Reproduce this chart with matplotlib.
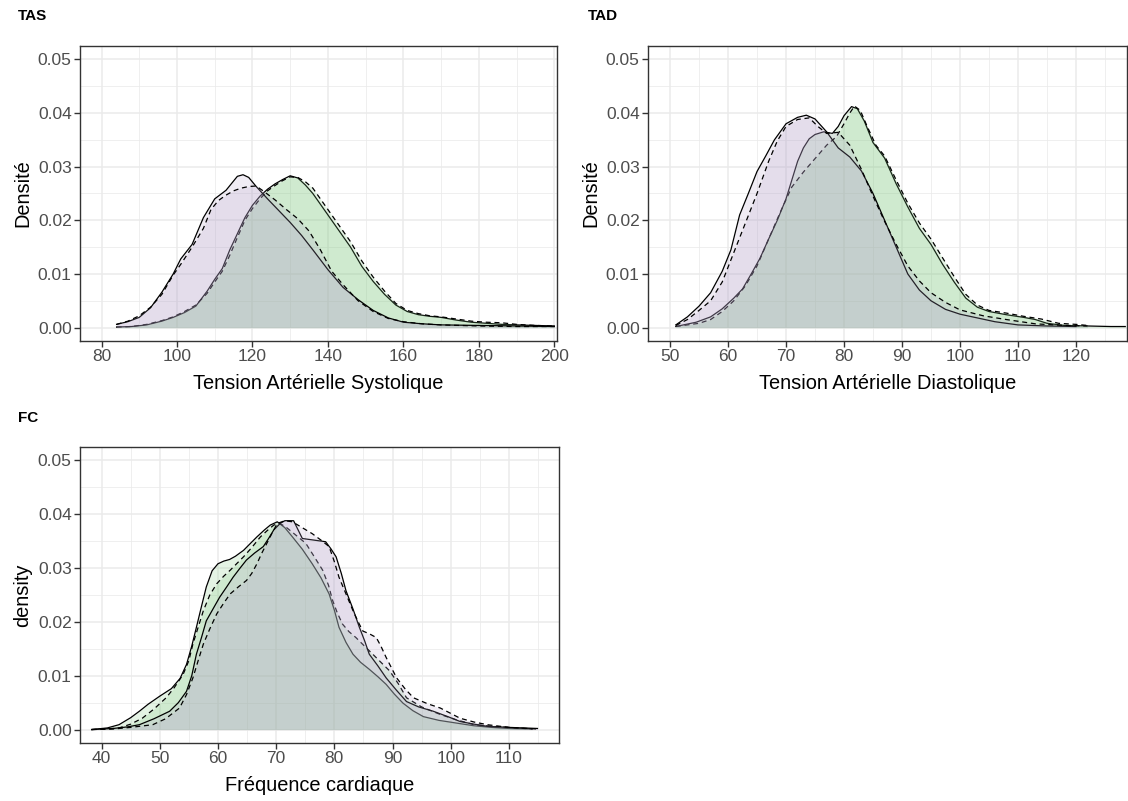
import numpy as np
import matplotlib.pyplot as plt
from matplotlib.ticker import MultipleLocator

plt.rcParams['font.family'] = ['Liberation Sans', 'DejaVu Sans']

# ------------------------------------------------------------
# Données (densités estimées)
# ------------------------------------------------------------
# TAS
tas_ps_x = [84, 87, 90, 93, 96, 99, 101, 104, 107, 110, 113, 116, 117.5, 119, 121, 124, 127, 130, 133, 136,
            140, 144, 148, 152, 156, 160, 165, 170, 180, 190, 200]
tas_ps_y = [0.0006, 0.0011, 0.0019, 0.0037, 0.0066, 0.0100, 0.0128, 0.0155, 0.0205, 0.0240, 0.0256, 0.0282,
            0.0285, 0.0280, 0.0263, 0.0240, 0.0218, 0.0196, 0.0172, 0.0145, 0.0108, 0.0075, 0.0052, 0.0032,
            0.0018, 0.0010, 0.0007, 0.0005, 0.0004, 0.0003, 0.0002]
tas_pd_x = [84, 87, 90, 93, 96, 99, 101, 104, 107, 109, 111, 113, 115, 117, 119, 121, 123, 126, 129, 132, 135,
            138, 141, 144, 148, 152, 156, 160, 165, 170, 180, 190, 200]
tas_pd_y = [0.0006, 0.0012, 0.0022, 0.0038, 0.0062, 0.0098, 0.0118, 0.0150, 0.0185, 0.0220, 0.0237, 0.0247,
            0.0255, 0.0260, 0.0263, 0.0264, 0.0254, 0.0238, 0.0220, 0.0203, 0.0180, 0.0145, 0.0105, 0.0080,
            0.0050, 0.0030, 0.0017, 0.0011, 0.0007, 0.0005, 0.0003, 0.0002, 0.0002]
tas_gs_x = [84, 88, 92, 96, 99, 102, 105, 108, 110, 112, 114, 116, 118, 120, 122, 124, 126, 128, 130, 132, 134,
            136, 138, 140, 143, 146, 149, 152, 155, 158, 161, 164, 167, 170, 174, 178, 182, 186, 190, 195, 200]
tas_gs_y = [0.0001, 0.0002, 0.0005, 0.0012, 0.0019, 0.0028, 0.0040, 0.0068, 0.0090, 0.0110, 0.0145, 0.0175,
            0.0205, 0.0228, 0.0245, 0.0258, 0.0268, 0.0276, 0.0283, 0.0279, 0.0266, 0.0250, 0.0230, 0.0210,
            0.0180, 0.0150, 0.0114, 0.0086, 0.0062, 0.0042, 0.0030, 0.0024, 0.0021, 0.0019, 0.0014, 0.0010,
            0.0008, 0.0006, 0.0005, 0.0004, 0.0003]
tas_gd_x = tas_gs_x
tas_gd_y = [0.0001, 0.0002, 0.0006, 0.0013, 0.0020, 0.0030, 0.0042, 0.0064, 0.0085, 0.0105, 0.0135, 0.0168,
            0.0200, 0.0222, 0.0240, 0.0255, 0.0265, 0.0274, 0.0281, 0.0280, 0.0272, 0.0260, 0.0240, 0.0220,
            0.0190, 0.0160, 0.0124, 0.0094, 0.0068, 0.0045, 0.0032, 0.0026, 0.0022, 0.0020, 0.0016, 0.0012,
            0.0010, 0.0009, 0.0006, 0.0004, 0.0003]

# TAD
tad_ps_x = [51, 53, 55, 57, 59, 60.5, 62, 63.5, 65, 66.5, 68, 70, 72, 73.5, 75, 77, 79, 81, 83, 85, 87, 89, 91,
            93, 95, 97.5, 100, 103, 106, 110, 115, 120]
tad_ps_y = [0.0005, 0.0020, 0.0040, 0.0065, 0.0105, 0.0145, 0.0210, 0.0250, 0.0291, 0.0320, 0.0350, 0.0380,
            0.0392, 0.0396, 0.0389, 0.0365, 0.0335, 0.0318, 0.0292, 0.0250, 0.0200, 0.0150, 0.0100, 0.0070,
            0.0050, 0.0034, 0.0025, 0.0018, 0.0011, 0.0005, 0.0003, 0.0002]
tad_pd_x = [51, 53, 55, 57, 59, 61, 63, 65, 67, 68.5, 70, 72, 74, 75.5, 77, 79, 81, 83, 85, 87, 89, 91, 93, 95,
            97.5, 100, 104, 108, 113, 118, 122]
tad_pd_y = [0.0004, 0.0015, 0.0032, 0.0050, 0.0085, 0.0140, 0.0195, 0.0250, 0.0310, 0.0348, 0.0375, 0.0388,
            0.0391, 0.0375, 0.0362, 0.0364, 0.0340, 0.0295, 0.0245, 0.0198, 0.0155, 0.0115, 0.0087, 0.0065,
            0.0047, 0.0033, 0.0022, 0.0015, 0.0007, 0.0004, 0.0003]
tad_gs_x = [51, 54.5, 57, 59, 61, 62.5, 64, 65.5, 67, 68.5, 70, 71, 72, 73, 74, 75, 76.5, 78, 79, 80, 81.3, 82.3,
            83.5, 85, 87, 89, 91, 93, 95, 97, 99, 101, 103, 105, 108, 111, 113, 115, 118, 122, 126, 128.5]
tad_gs_y = [0.0002, 0.0010, 0.0020, 0.0035, 0.0055, 0.0072, 0.0100, 0.0129, 0.0165, 0.0200, 0.0240, 0.0275,
            0.0310, 0.0335, 0.0352, 0.0360, 0.0365, 0.0362, 0.0375, 0.0395, 0.0412, 0.0408, 0.0385, 0.0345,
            0.0316, 0.0268, 0.0225, 0.0185, 0.0155, 0.0118, 0.0085, 0.0055, 0.0038, 0.0030, 0.0024, 0.0019,
            0.0015, 0.0008, 0.0004, 0.0003, 0.0002, 0.0002]
tad_gd_x = [51, 55, 57, 59, 61, 63, 65, 67, 69, 71, 73, 75, 77, 78.7, 80, 81, 81.8, 82.8, 84, 85.5, 87, 89, 91,
            93, 95, 97, 99, 101, 103, 105, 108, 111, 114, 117, 120, 122]
tad_gd_y = [0.0002, 0.0008, 0.0015, 0.0030, 0.0050, 0.0078, 0.0115, 0.0165, 0.0215, 0.0262, 0.0290, 0.0315,
            0.0340, 0.0356, 0.0380, 0.0400, 0.0413, 0.0405, 0.0375, 0.0340, 0.0320, 0.0275, 0.0232, 0.0195,
            0.0165, 0.0130, 0.0095, 0.0062, 0.0042, 0.0032, 0.0027, 0.0021, 0.0016, 0.0008, 0.0006, 0.0004]

# FC
fc_gs_x = [38.3, 41, 43, 45, 46.5, 48, 50, 52, 53.5, 54.6, 55.5, 56.3, 57.2, 58, 59, 60, 61, 62, 63, 64.4, 65.5,
           66.7, 68, 69, 70.2, 71.5, 72.8, 74.5, 76.2, 77.7, 79.1, 80, 80.8, 82, 83.2, 84.5, 86, 87.5, 88.9,
           90.3, 91.8, 93.5, 95.3, 98, 101, 104, 107, 110, 114]
fc_gs_y = [0.0000, 0.0003, 0.0009, 0.0022, 0.0034, 0.0047, 0.0062, 0.0076, 0.0095, 0.0121, 0.0155, 0.0190,
           0.0230, 0.0265, 0.0295, 0.0308, 0.0313, 0.0316, 0.0322, 0.0333, 0.0345, 0.0358, 0.0371, 0.0380,
           0.0386, 0.0375, 0.0358, 0.0335, 0.0308, 0.0282, 0.0252, 0.0222, 0.0190, 0.0162, 0.0140, 0.0125,
           0.0112, 0.0098, 0.0084, 0.0066, 0.0049, 0.0035, 0.0024, 0.0017, 0.0012, 0.0007, 0.0004, 0.0002,
           0.0001]
fc_gd_x = [38.3, 41, 43, 45, 47, 49, 51.1, 52.5, 54, 55, 55.7, 56.6, 57.5, 58.6, 59.8, 61, 62.1, 63.2, 64.4,
           65.8, 67.3, 68.5, 69.6, 70.6, 71.6, 73.3, 75.1, 76.5, 78, 79, 79.7, 80.5, 81.4, 82.5, 83.7, 85, 86.6,
           88, 89.5, 91, 92.4, 95, 98.2, 101, 104, 107, 110, 114]
fc_gd_y = [0.0000, 0.0001, 0.0003, 0.0010, 0.0021, 0.0038, 0.0059, 0.0078, 0.0102, 0.0128, 0.0159, 0.0190,
           0.0221, 0.0250, 0.0271, 0.0285, 0.0296, 0.0308, 0.0321, 0.0338, 0.0358, 0.0370, 0.0380, 0.0383,
           0.0377, 0.0362, 0.0346, 0.0322, 0.0296, 0.0268, 0.0240, 0.0217, 0.0196, 0.0182, 0.0171, 0.0157,
           0.0140, 0.0125, 0.0109, 0.0085, 0.0059, 0.0042, 0.0028, 0.0018, 0.0009, 0.0006, 0.0004, 0.0001]
fc_ps_x = [38.3, 42, 44.5, 46.5, 49, 51.7, 53.2, 54.6, 55.5, 56.3, 57.2, 58, 59.2, 60.3, 61.5, 62.6, 63.8, 64.9,
           66.3, 67.8, 68.7, 69.6, 70.7, 71.5, 73, 74.5, 76.5, 78.5, 79.4, 80.3, 81.2, 82, 83.2, 84.3, 85.2, 86,
           87.5, 88.9, 90.6, 92.4, 94.5, 97, 99.5, 101.6, 104, 106.3, 110, 114.9]
fc_ps_y = [0.0000, 0.0002, 0.0005, 0.0009, 0.0020, 0.0034, 0.0050, 0.0071, 0.0100, 0.0140, 0.0172, 0.0202,
           0.0225, 0.0246, 0.0265, 0.0283, 0.0300, 0.0315, 0.0328, 0.0340, 0.0355, 0.0371, 0.0383, 0.0388,
           0.0388, 0.0355, 0.0352, 0.0349, 0.0336, 0.0321, 0.0290, 0.0258, 0.0224, 0.0190, 0.0165, 0.0140,
           0.0118, 0.0096, 0.0074, 0.0052, 0.0042, 0.0034, 0.0024, 0.0015, 0.0010, 0.0006, 0.0004, 0.0002]
fc_pd_x = [38.3, 42, 45, 48.8, 51, 53.4, 54.6, 55.7, 56.6, 57.5, 58.6, 59.8, 61, 62.1, 63.5, 64.9, 65.8, 66.7,
           67.5, 68.4, 69.3, 70.2, 71.5, 72.8, 74.5, 76.2, 77.7, 79.1, 80, 80.8, 82, 83.2, 84.1, 84.9, 86, 87.2,
           88, 88.9, 89.8, 90.7, 92.2, 93.6, 96, 98.2, 100, 101.6, 104, 106.3, 110, 114.9]
fc_pd_y = [0.0000, 0.0001, 0.0004, 0.0009, 0.0020, 0.0040, 0.0065, 0.0096, 0.0128, 0.0159, 0.0187, 0.0215,
           0.0235, 0.0252, 0.0265, 0.0277, 0.0290, 0.0308, 0.0327, 0.0346, 0.0365, 0.0383, 0.0388, 0.0386,
           0.0375, 0.0364, 0.0352, 0.0340, 0.0312, 0.0283, 0.0252, 0.0221, 0.0200, 0.0183, 0.0178, 0.0171,
           0.0155, 0.0134, 0.0115, 0.0096, 0.0075, 0.0059, 0.0048, 0.0040, 0.0030, 0.0021, 0.0014, 0.0009,
           0.0004, 0.0001]

PURPLE = '#B4A3CA'
GREEN = '#7CC77C'
ALPHA = 0.2


def draw_density(ax, x, y, fill, dashed):
    ax.fill_between(x, 0, y, color=fill, alpha=ALPHA, linewidth=0, zorder=3)
    ls = (0, (4, 3)) if dashed else '-'
    ax.plot(x, y, color='black', linewidth=0.9, linestyle=ls, zorder=3)


def style_axes(ax, xlim, xmajor, xlabel, ylabel):
    ax.set_xlim(*xlim)
    ax.set_ylim(-0.0025, 0.0525)
    ax.xaxis.set_major_locator(MultipleLocator(xmajor))
    ax.xaxis.set_minor_locator(MultipleLocator(xmajor / 2))
    ax.yaxis.set_major_locator(MultipleLocator(0.01))
    ax.yaxis.set_minor_locator(MultipleLocator(0.005))
    ax.yaxis.set_major_formatter(plt.FuncFormatter(lambda v, p: f"{v:.2f}"))
    ax.grid(which='major', color='#EBEBEB', linewidth=1.1, zorder=0)
    ax.grid(which='minor', color='#EBEBEB', linewidth=0.55, zorder=0)
    ax.set_axisbelow(True)
    for s in ax.spines.values():
        s.set_color('#333333')
        s.set_linewidth(1.0)
    ax.tick_params(which='major', length=4, width=1.0, color='#333333',
                   labelcolor='#4D4D4D', labelsize=12.5, pad=2)
    ax.tick_params(which='minor', length=0)
    ax.set_xlabel(xlabel, fontsize=14.4, color='black', labelpad=7)
    ax.set_ylabel(ylabel, fontsize=14.4, color='black', labelpad=4)


fig = plt.figure(figsize=(11.28, 8.01), dpi=100)
W, H = 1128, 801


def add_axes_px(x0, y0, x1, y1):
    return fig.add_axes([x0 / W, 1 - y1 / H, (x1 - x0) / W, (y1 - y0) / H])


ax1 = add_axes_px(80, 46, 557, 341)
ax2 = add_axes_px(648, 46, 1127, 341)
ax3 = add_axes_px(80, 447, 559, 743)

# ordre : vert puis violet (les remplissages violets recouvrent les traits verts)
draw_density(ax1, tas_gs_x, tas_gs_y, GREEN, False)
draw_density(ax1, tas_gd_x, tas_gd_y, GREEN, True)
draw_density(ax1, tas_ps_x, tas_ps_y, PURPLE, False)
draw_density(ax1, tas_pd_x, tas_pd_y, PURPLE, True)
style_axes(ax1, (74.3, 200.7), 20, "Tension Artérielle Systolique", "Densité")

draw_density(ax2, tad_gs_x, tad_gs_y, GREEN, False)
draw_density(ax2, tad_gd_x, tad_gd_y, GREEN, True)
draw_density(ax2, tad_ps_x, tad_ps_y, PURPLE, False)
draw_density(ax2, tad_pd_x, tad_pd_y, PURPLE, True)
style_axes(ax2, (46.2, 128.8), 10, "Tension Artérielle Diastolique", "Densité")

draw_density(ax3, fc_gs_x, fc_gs_y, GREEN, False)
draw_density(ax3, fc_gd_x, fc_gd_y, GREEN, True)
draw_density(ax3, fc_ps_x, fc_ps_y, PURPLE, False)
draw_density(ax3, fc_pd_x, fc_pd_y, PURPLE, True)
style_axes(ax3, (36.3, 118.6), 10, "Fréquence cardiaque", "density")

fig.text(18 / W, 1 - 16 / H, "TAS", fontsize=11, fontweight='bold', va='center', ha='left')
fig.text(588 / W, 1 - 16 / H, "TAD", fontsize=11, fontweight='bold', va='center', ha='left')
fig.text(18 / W, 1 - 418 / H, "FC", fontsize=11, fontweight='bold', va='center', ha='left')

fig.savefig("out.png", dpi=100, facecolor='white')
